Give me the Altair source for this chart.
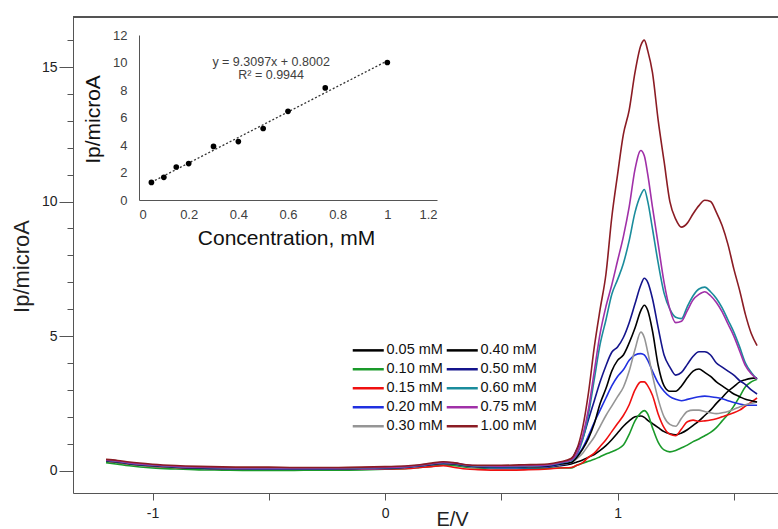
import altair as alt
import pandas as pd

# ---------------- main voltammogram data ----------------
E_base = [-1.2, -1.15, -1.1, -1.0, -0.9, -0.8, -0.7, -0.6, -0.5, -0.4, -0.3, -0.2, -0.1,
          0.0, 0.1, 0.15, 0.2, 0.25, 0.3, 0.35, 0.4, 0.5, 0.6, 0.7, 0.75]
E_peak = [0.80, 0.825, 0.85, 0.875, 0.90, 0.925, 0.95, 0.975, 1.00, 1.025, 1.05, 1.075,
          1.10, 1.115, 1.13, 1.15, 1.175, 1.20, 1.225, 1.25, 1.275, 1.30, 1.325, 1.35,
          1.375, 1.40, 1.425, 1.45, 1.475, 1.50, 1.525, 1.55, 1.575, 1.60]

labels = ["0.05 mM", "0.10 mM", "0.15 mM", "0.20 mM", "0.30 mM",
          "0.40 mM", "0.50 mM", "0.60 mM", "0.75 mM", "1.00 mM"]
colors = ["#000000", "#1a9a2a", "#f01010", "#2030e0", "#959595",
          "#000000", "#14148c", "#1a8c9c", "#a030a8", "#8b1c24"]

base_005 = [0.35, 0.30, 0.24, 0.16, 0.11, 0.08, 0.07, 0.06, 0.06, 0.06, 0.06, 0.06, 0.07, 0.08, 0.12, 0.16, 0.20, 0.25, 0.22, 0.16, 0.13, 0.10, 0.10, 0.13, 0.18]
base_010 = [0.30, 0.24, 0.18, 0.10, 0.06, 0.03, 0.02, 0.01, 0.01, 0.01, 0.02, 0.02, 0.03, 0.05, 0.08, 0.12, 0.16, 0.20, 0.18, 0.13, 0.10, 0.07, 0.07, 0.08, 0.10]
base_015 = [0.36, 0.31, 0.25, 0.17, 0.12, 0.09, 0.07, 0.06, 0.06, 0.06, 0.06, 0.05, 0.05, 0.06, 0.08, 0.12, 0.15, 0.18, 0.12, 0.06, 0.04, 0.02, 0.03, 0.06, 0.10]
base_020 = [0.37, 0.32, 0.26, 0.18, 0.13, 0.09, 0.07, 0.06, 0.05, 0.05, 0.05, 0.06, 0.07, 0.08, 0.13, 0.17, 0.22, 0.27, 0.24, 0.17, 0.13, 0.10, 0.11, 0.14, 0.20]
base_030 = [0.36, 0.31, 0.25, 0.17, 0.12, 0.09, 0.08, 0.07, 0.07, 0.07, 0.07, 0.07, 0.08, 0.09, 0.13, 0.17, 0.22, 0.27, 0.24, 0.17, 0.14, 0.12, 0.13, 0.16, 0.22]
base_040 = [0.37, 0.32, 0.26, 0.18, 0.13, 0.10, 0.08, 0.08, 0.08, 0.08, 0.08, 0.08, 0.09, 0.10, 0.14, 0.18, 0.23, 0.28, 0.25, 0.18, 0.15, 0.13, 0.14, 0.17, 0.24]
base_050 = [0.38, 0.33, 0.27, 0.19, 0.14, 0.11, 0.09, 0.08, 0.08, 0.08, 0.08, 0.08, 0.09, 0.10, 0.14, 0.18, 0.24, 0.29, 0.26, 0.19, 0.16, 0.14, 0.15, 0.18, 0.26]
base_060 = [0.39, 0.34, 0.28, 0.20, 0.15, 0.12, 0.10, 0.09, 0.09, 0.09, 0.09, 0.09, 0.10, 0.11, 0.15, 0.19, 0.25, 0.30, 0.27, 0.20, 0.17, 0.15, 0.16, 0.20, 0.28]
base_075 = [0.40, 0.35, 0.29, 0.21, 0.16, 0.13, 0.11, 0.10, 0.10, 0.10, 0.10, 0.10, 0.11, 0.12, 0.16, 0.20, 0.26, 0.31, 0.28, 0.21, 0.18, 0.17, 0.18, 0.21, 0.30]
base_100 = [0.42, 0.38, 0.32, 0.24, 0.19, 0.16, 0.14, 0.13, 0.13, 0.12, 0.12, 0.12, 0.13, 0.15, 0.18, 0.22, 0.28, 0.33, 0.29, 0.22, 0.20, 0.20, 0.22, 0.25, 0.32]

peak_005 = [0.25, 0.32, 0.40, 0.50, 0.60, 0.75, 0.93, 1.15, 1.40, 1.65, 1.85, 2.00, 2.03, 1.98, 1.87, 1.75, 1.60, 1.45, 1.37, 1.33, 1.40, 1.52, 1.68, 1.85, 2.05, 2.25, 2.50, 2.72, 2.95, 3.12, 3.30, 3.38, 3.43, 3.45]
peak_010 = [0.10, 0.20, 0.28, 0.35, 0.42, 0.52, 0.62, 0.70, 0.80, 0.95, 1.35, 1.85, 2.15, 2.23, 2.10, 1.60, 1.05, 0.77, 0.70, 0.75, 0.85, 0.95, 1.08, 1.18, 1.30, 1.42, 1.60, 1.85, 2.10, 2.40, 2.75, 3.12, 3.30, 3.40]
peak_015 = [0.12, 0.20, 0.30, 0.50, 0.65, 0.90, 1.15, 1.45, 1.75, 2.05, 2.45, 3.00, 3.30, 3.30, 3.15, 2.80, 2.10, 1.60, 1.35, 1.30, 1.55, 1.82, 1.88, 1.83, 1.85, 1.88, 1.93, 2.00, 2.08, 2.15, 2.25, 2.40, 2.55, 2.70]
peak_020 = [0.30, 0.55, 0.85, 1.30, 1.80, 2.25, 2.70, 3.15, 3.50, 3.75, 4.10, 4.30, 4.35, 4.30, 4.10, 3.70, 3.25, 2.95, 2.75, 2.65, 2.60, 2.65, 2.70, 2.75, 2.77, 2.75, 2.72, 2.67, 2.60, 2.53, 2.48, 2.44, 2.43, 2.43]
peak_030 = [0.30, 0.45, 0.65, 0.95, 1.25, 1.65, 2.05, 2.40, 2.75, 3.10, 3.70, 4.50, 5.15, 4.95, 4.40, 3.55, 2.65, 2.00, 1.72, 1.65, 1.95, 2.20, 2.25, 2.25, 2.20, 2.15, 2.12, 2.15, 2.20, 2.28, 2.37, 2.45, 2.50, 2.55]
peak_040 = [0.30, 0.50, 0.80, 1.20, 1.75, 2.50, 3.05, 3.70, 4.10, 4.30, 4.75, 5.30, 5.95, 6.15, 5.95, 5.20, 3.90, 3.15, 2.95, 2.95, 3.15, 3.45, 3.70, 3.78, 3.65, 3.50, 3.30, 3.15, 3.00, 2.85, 2.75, 2.65, 2.60, 2.55]
peak_050 = [0.40, 0.80, 1.20, 1.90, 2.60, 3.30, 3.90, 4.40, 4.60, 4.95, 5.50, 6.20, 6.90, 7.15, 7.00, 6.40, 5.30, 4.30, 3.85, 3.55, 3.65, 3.95, 4.25, 4.42, 4.42, 4.30, 4.00, 3.85, 3.70, 3.55, 3.35, 3.20, 3.00, 2.85]
peak_060 = [0.38, 0.60, 1.15, 2.10, 3.40, 4.70, 5.60, 6.55, 7.10, 7.70, 8.55, 9.60, 10.25, 10.45, 10.00, 9.00, 7.70, 6.60, 6.00, 5.70, 5.65, 6.10, 6.50, 6.75, 6.82, 6.65, 6.40, 6.05, 5.60, 5.15, 4.60, 4.00, 3.65, 3.40]
peak_075 = [0.40, 0.65, 1.30, 2.30, 3.70, 5.10, 6.10, 6.90, 7.80, 8.70, 9.80, 11.20, 11.90, 11.70, 11.00, 9.80, 8.40, 7.00, 6.00, 5.50, 5.55, 5.95, 6.35, 6.55, 6.65, 6.50, 6.25, 5.90, 5.45, 5.00, 4.45, 3.90, 3.60, 3.40]
peak_100 = [0.45, 0.80, 1.60, 2.90, 4.60, 6.00, 7.30, 9.40, 11.00, 12.50, 13.40, 14.80, 15.80, 16.00, 15.60, 14.80, 13.00, 11.50, 10.00, 9.35, 9.05, 9.20, 9.55, 9.85, 10.05, 10.00, 9.60, 9.10, 8.40, 7.50, 6.70, 5.80, 5.10, 4.65]

bases = [base_005, base_010, base_015, base_020, base_030, base_040, base_050, base_060, base_075, base_100]
peaks = [peak_005, peak_010, peak_015, peak_020, peak_030, peak_040, peak_050, peak_060, peak_075, peak_100]

rows = []
for lab, b, p in zip(labels, bases, peaks):
    for e, v in zip(E_base + E_peak, b + p):
        rows.append({"E": e, "I": v, "conc": lab})
df = pd.DataFrame(rows)

# ---------------- inset calibration data ----------------
cal_conc = [0.05, 0.10, 0.15, 0.20, 0.30, 0.40, 0.50, 0.60, 0.75, 1.00]
cal_ip = [1.28, 1.65, 2.40, 2.65, 3.90, 4.25, 5.20, 6.45, 8.15, 10.0]
cal_df = pd.DataFrame({"conc": cal_conc, "ip": cal_ip})

eq_text = ["y = 9.3097x + 0.8002", "R² = 0.9944"]
eq_conc = [0.532, 0.532]
eq_ip = [10.06, 9.09]
eq_df = pd.DataFrame({"conc": eq_conc, "ip": eq_ip, "txt": eq_text})

W, H = 705, 476
FONT = "Liberation Sans"

x_main = alt.X(
    "E:Q",
    scale=alt.Scale(domain=[-1.342, 1.69], nice=False, zero=False),
    axis=alt.Axis(
        orient="bottom",
        values=[-1, -0.5, 0, 0.5, 1, 1.5],
        labelExpr="datum.value == -1 ? '-1' : (datum.value == 0 ? '0' : (datum.value == 1 ? '1' : ''))",
        tickSize=7, labelPadding=6, labelFontSize=14, labelColor="#222222",
        domainColor="#555555", tickColor="#555555", grid=False,
        title="E/V", titleFontSize=20, titleFontWeight="normal", titleColor="#222222",
        titleX=379, titleY=16, titleBaseline="top", titleAlign="center",
    ),
)
y_main = alt.Y(
    "I:Q",
    scale=alt.Scale(domain=[-0.83, 16.86], nice=False, zero=False),
    axis=alt.Axis(
        orient="left",
        values=list(range(0, 17)),
        labelExpr="datum.value % 5 == 0 ? datum.label : ''",
        format="d",
        tickSize={"condition": {"test": "datum.value % 5 == 0", "value": 14}, "value": 6},
        labelPadding=2, labelFontSize=14, labelColor="#222222",
        domainColor="#555555", tickColor="#555555", grid=False,
        title="Ip/microA", titleFontSize=22, titleFontWeight="normal", titleColor="#222222",
        titleX=-52, titleY=249, titleBaseline="middle", titleAlign="center",
    ),
)

# long horizontal stroke symbol drawn in a small legend cell so rows stay tight
legend_symbol = "M-3,0L3,0"

lines = alt.Chart(df).mark_line(strokeWidth=1.6, interpolate="monotone").encode(
    x=x_main,
    y=y_main,
    color=alt.Color(
        "conc:N",
        scale=alt.Scale(domain=labels, range=colors),
        legend=alt.Legend(
            orient="none", legendX=288, legendY=326, columns=2, title=None,
            symbolType=legend_symbol, symbolSize=107, symbolStrokeWidth=2.5,
            labelFontSize=14.5, labelOffset=11, labelColor="#111111",
            rowPadding=4, columnPadding=-2, padding=0,
        ),
    ),
)

top_border = alt.Chart(df).mark_rule(color="#555555", strokeWidth=1).encode(
    x=alt.value(0), x2=alt.value(W), y=alt.value(0)
)

main = alt.layer(lines, top_border)

# inset axes placed inside the main plot area through pixel scale ranges
x_in = alt.X(
    "conc:Q",
    scale=alt.Scale(domain=[0, 1.2], range=[66, 364], nice=False, zero=False),
    axis=alt.Axis(
        orient="bottom", offset=-293, values=[0, 0.2, 0.4, 0.6, 0.8, 1.0, 1.2],
        format="~g",
        ticks=False, labelPadding=8, labelFontSize=13, labelColor="#404040",
        domainColor="#555555", grid=False,
        title="Concentration, mM", titleFontSize=21, titleFontWeight="normal", titleColor="#111111",
        titleX=213, titleY=38, titleBaseline="middle", titleAlign="center",
    ),
)
y_in = alt.Y(
    "ip:Q",
    scale=alt.Scale(domain=[0, 12], range=[183, 18], nice=False, zero=False),
    axis=alt.Axis(
        orient="left", offset=-66, values=[0, 2, 4, 6, 8, 10, 12],
        ticks=False, labelPadding=12, labelFontSize=13, labelColor="#404040",
        domainColor="#555555", grid=False,
        title="Ip/microA", titleFontSize=21, titleFontWeight="normal", titleColor="#111111",
        titleX=-46, titleY=102, titleBaseline="middle", titleAlign="center",
    ),
)

trend = alt.Chart(cal_df).transform_regression("conc", "ip", method="linear").mark_line(
    strokeDash=[2, 2], strokeWidth=1.3, color="#333333"
).encode(x=x_in, y=y_in)

pts = alt.Chart(cal_df).mark_circle(size=32, color="#000000", opacity=1).encode(
    x=alt.X("conc:Q"), y=alt.Y("ip:Q")
)

eq = alt.Chart(eq_df).mark_text(fontSize=12.5, color="#404040", font=FONT).encode(
    x=alt.X("conc:Q"), y=alt.Y("ip:Q"), text="txt:N"
)

inset = alt.layer(trend, pts, eq)

chart = alt.layer(main, inset).resolve_scale(
    x="independent", y="independent"
).properties(
    width=W, height=H,
    padding={"left": 73, "top": 17, "right": 0, "bottom": 36},
    autosize=alt.AutoSizeParams(type="none"),
).configure_view(
    stroke=None
).configure(
    font=FONT
)

chart.save("out.html", embed_options={"renderer": "svg", "actions": False})
